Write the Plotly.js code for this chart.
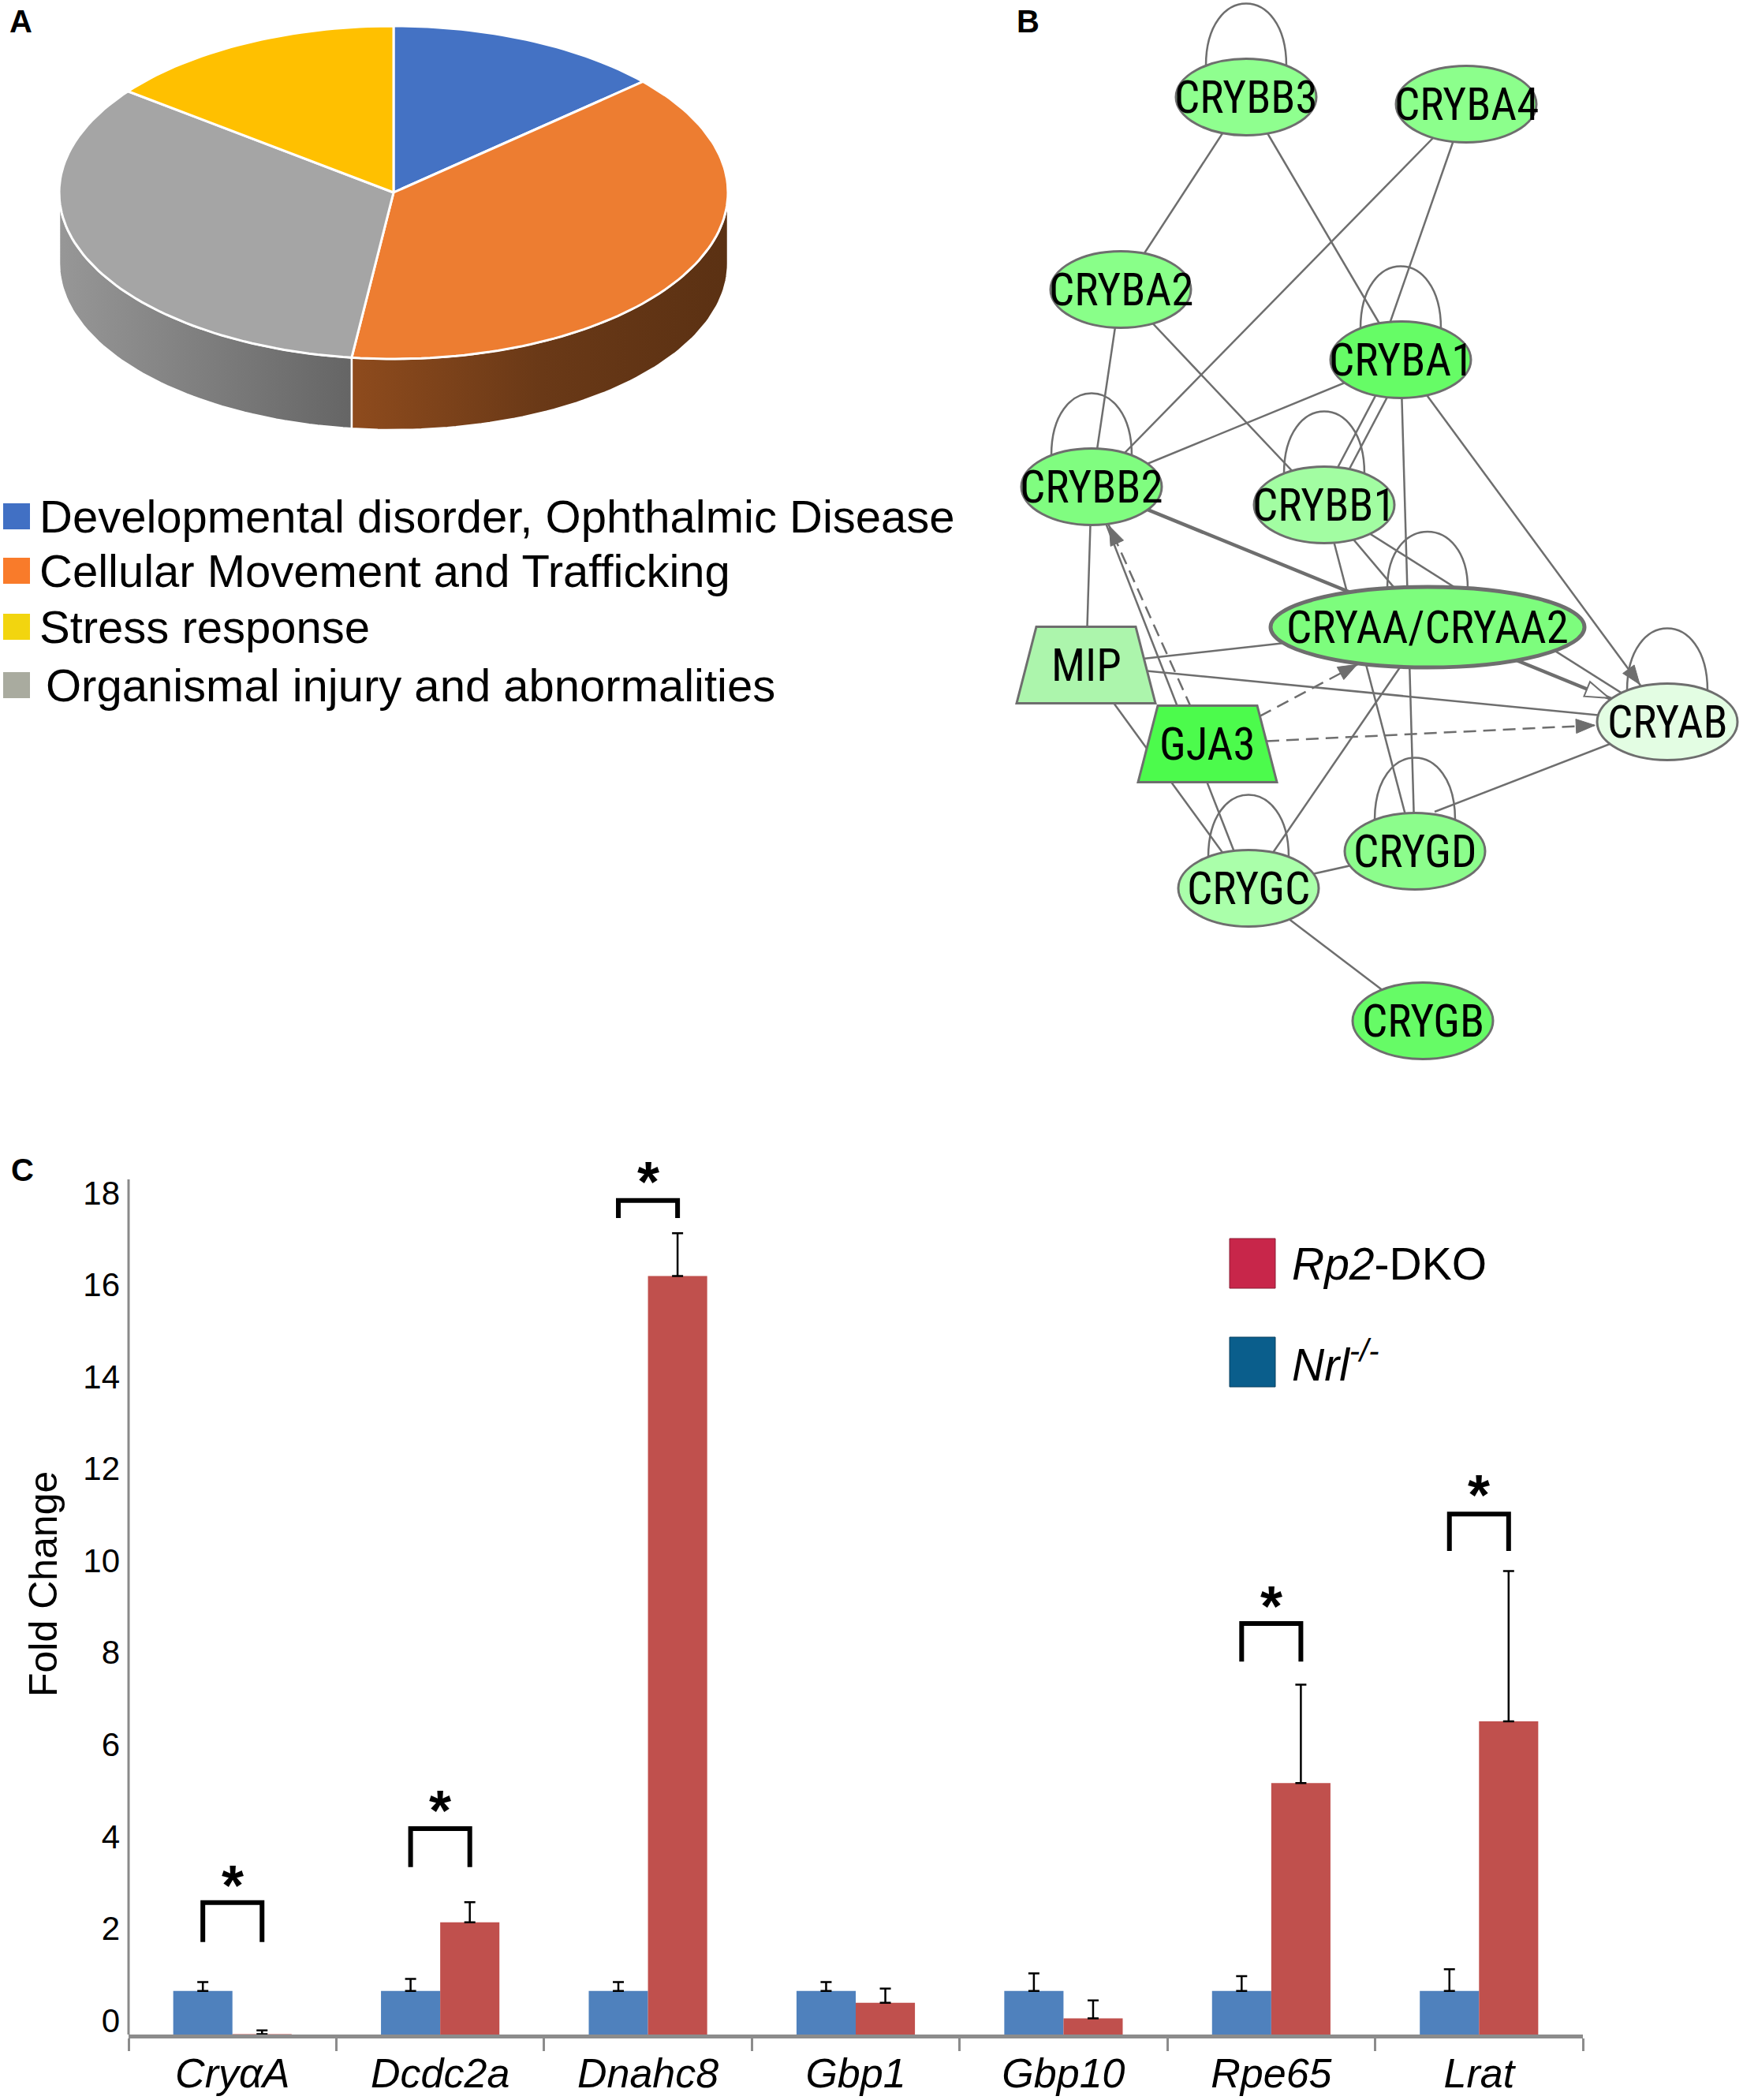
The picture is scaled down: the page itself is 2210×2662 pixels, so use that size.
<!DOCTYPE html>
<html><head><meta charset="utf-8">
<script src="https://cdn.plot.ly/plotly-3.0.1.min.js"></script>
<style>html,body{margin:0;padding:0;background:#fff}</style>
</head><body><div id="chart" style="width:2210px;height:2662px"></div>
<script>
// ================= Panel A : pie data =================
const pieCategories = ['Developmental disorder, Ophthalmic Disease','Cellular Movement and Trafficking','Stress response','Organismal injury and abnormalities'];
const pieValues = [13.4, 38.6, 14.6, 33.4];
const pieColors = ['#4472C4','#ED7D31','#FFC000','#A5A5A5'];
const pieSideColors = [['#2f5597','#203d6e'],['#8e4b1d','#6a3917','#5b3113'],['#b38600','#806000'],['#979797','#656565']];
const pieLegendColors = ['#4170C4','#F97B2A','#F2D50F','#A9AB9F'];
const pieDrawOrder = [0,1,3,2];

// ================= Panel B : network data =================
const nodeNames = ['CRYBB3','CRYBA4','CRYBA2','CRYBA1','CRYBB2','CRYBB1','CRYAA/CRYAA2','MIP','GJA3','CRYAB','CRYGD','CRYGC','CRYGB'];
const nodeX = [1580,1859,1421,1776,1384,1679,1810,1377,1531,2114,1794,1583,1804];
const nodeY = [123,132,367,456,617,640,795,843,943,915,1079,1126,1294];
const nodeKind = ['e','e','e','e','e','e','w','t','t','e','e','e','e'];
const nodeFill = ['#8fff8f','#8cff8c','#89ff89','#66fc66','#80fd80','#a2fda2','#7dfd7d','#acf5ac','#4cfb4c','#e3fde3','#8cfd8c','#aaffaa','#66fb66'];
const loopNodes = ['CRYBB3','CRYBA1','CRYBB2','CRYBB1','CRYAA/CRYAA2','CRYAB','CRYGD','CRYGC'];
const edgeFrom = ['CRYBB3','CRYBB3','CRYBA4','CRYBA4','CRYBA2','CRYBA2','CRYBA1','CRYBA1','CRYBA1','CRYBA1','CRYBA1','CRYBB2','CRYBB2','GJA3','CRYBB2','MIP','MIP','MIP','GJA3','GJA3','CRYBB1','CRYBB1','CRYBB1','CRYAA/CRYAA2','CRYGD','CRYGC','CRYGC'];
const edgeTo   = ['CRYBA2','CRYBA1','CRYBB2','CRYBA1','CRYBB2','CRYBB1','CRYBB2','CRYBB1','CRYBB1','CRYGD','CRYAB','CRYAB','MIP','CRYBB2','CRYGC','CRYAA/CRYAA2','CRYAB','CRYGC','CRYAA/CRYAA2','CRYAB','CRYAA/CRYAA2','CRYGD','CRYAB','CRYGC','CRYAB','CRYGD','CRYGB'];
const edgeDash = ['s','s','s','s','s','s','s','s','s','s','s','s','s','d','s','s','s','s','d','d','s','s','s','s','s','s','s'];
const edgeHead = ['','','','','','','','','','','filled','open','','filled','','','','','filled','filled','','','','','','',''];
const edgeWidth= [2.5,2.5,2.5,2.5,2.5,2.5,2.5,2.5,2.5,2.5,2.5,4.5,2.5,2.5,2.5,2.5,2.5,2.5,2.5,2.5,2.5,2.5,2.5,2.5,2.5,2.5,2.5];
const edgeShift= [0,0,0,0,0,0,0,7,-7,0,0,0,0,0,0,0,0,0,0,0,0,0,0,0,0,0,0];
const edgeFromOffset = {24:[25,-50]};
const edgeToOffset = {3:[-30,0]};

// ================= Panel C : bar data =================
const genes = ['CryαA','Dcdc2a','Dnahc8','Gbp1','Gbp10','Rpe65','Lrat'];
const nrlValues = [0.95,0.95,0.95,0.95,0.95,0.95,0.95];
const nrlErrors = [0.19,0.26,0.19,0.19,0.38,0.32,0.47];
const rp2Values = [0.01,2.44,16.5,0.69,0.35,5.47,6.81];
const rp2Errors = [0.08,0.44,0.93,0.31,0.39,2.14,3.27];
const sigBracketTop = [2.87,4.48,18.14,null,null,8.94,11.32];
const sigBracketLeg = [2.01,3.64,17.76,null,null,8.11,10.52];
const sigStarY      = [3.52,5.15,18.83,null,null,9.6,12.01];
const yTickVals = [0,2,4,6,8,10,12,14,16,18];
const seriesNames = ['Rp2-DKO','Nrl-/-'];

// ================= drawing =================
const W=2210, H=2662;
const FONT='Liberation Sans, Arial, Helvetica, sans-serif';
const NARROW='Liberation Sans Narrow, Arial Narrow, Roboto Condensed, DejaVu Sans Condensed, Liberation Sans, sans-serif';
const traces=[], shapes=[], annotations=[];
const P = {xref:'x2', yref:'y2'};

// ---- Pie (tilted) ----
const PIE={cx:499, cy:244, rx:424, ry:211, depth:90};
const total = pieValues.reduce((a,b)=>a+b,0);
function ept(t, dy){ const r=t*Math.PI/180; return [PIE.cx+PIE.rx*Math.cos(r), PIE.cy-PIE.ry*Math.sin(r)+(dy||0)]; }
function arc(tA,tB,dy){ const n=Math.max(2,Math.ceil(Math.abs(tB-tA)/1.5)); const out=[]; for(let k=0;k<=n;k++){ out.push(ept(tA+(tB-tA)*k/n,dy)); } return out; }
let st=90; const ranges=[];
pieDrawOrder.forEach(i=>{ const sw=360*pieValues[i]/total; ranges.push({i,t0:st,t1:st-sw}); st-=sw; });
ranges.forEach(r=>{
  const lo=Math.max(r.t1,-180), hi=Math.min(r.t0,0);
  if(lo<hi){
    const pts=arc(hi,lo,0).concat(arc(lo,hi,PIE.depth)); pts.push(pts[0]);
    const cs=pieSideColors[r.i]; const scale=cs.map((c,k)=>[k/(cs.length-1),c]);
    traces.push({type:'scatter',mode:'lines',x:pts.map(p=>p[0]),y:pts.map(p=>p[1]),xaxis:'x2',yaxis:'y2',
      fill:'toself',fillgradient:{type:'horizontal',colorscale:scale},fillcolor:cs[0],
      line:{color:'#ffffff',width:2.5},hoverinfo:'skip',showlegend:false});
  }
});
ranges.forEach(r=>{
  const pts=[[PIE.cx,PIE.cy]].concat(arc(r.t0,r.t1,0)); pts.push([PIE.cx,PIE.cy]);
  traces.push({type:'scatter',mode:'lines',x:pts.map(p=>p[0]),y:pts.map(p=>p[1]),xaxis:'x2',yaxis:'y2',
    fill:'toself',fillcolor:pieColors[r.i],line:{color:'#ffffff',width:3},hoverinfo:'skip',showlegend:false,name:pieCategories[r.i]});
});
const legY=[654.5,723.5,794.5,868.5];
pieCategories.forEach((c,i)=>{
  shapes.push({type:'rect',...P,x0:4,x1:38,y0:legY[i]-16.5,y1:legY[i]+16.5,fillcolor:pieLegendColors[i],line:{width:0}});
  annotations.push({...P,x:(i===3?56:48),y:legY[i],text:c,showarrow:false,xanchor:'left',yanchor:'middle',font:{size:58,family:FONT,color:'#000'}});
});

// ---- Network ----
const idx = n=>nodeNames.indexOf(n);
function geom(i){ const k=nodeKind[i]; if(k==='w') return {rx:199,ry:51}; if(k==='t') return {rx:76,ry:48.5}; return {rx:89,ry:48.5}; }
const EC='#6e6e6e';
edgeFrom.forEach((f,e)=>{
  const a=idx(f), b=idx(edgeTo[e]);
  let x0=nodeX[a], y0=nodeY[a], x1=nodeX[b], y1=nodeY[b];
  if(edgeFromOffset[e]){x0+=edgeFromOffset[e][0]; y0+=edgeFromOffset[e][1];}
  if(edgeToOffset[e]){x1+=edgeToOffset[e][0]; y1+=edgeToOffset[e][1];}
  const L=Math.hypot(x1-x0,y1-y0), nx=-(y1-y0)/L, ny=(x1-x0)/L;
  x0+=nx*edgeShift[e]; x1+=nx*edgeShift[e]; y0+=ny*edgeShift[e]; y1+=ny*edgeShift[e];
  shapes.push({type:'line',...P,x0,y0,x1,y1,line:{color:EC,width:edgeWidth[e],dash:edgeDash[e]==='d'?'16px,9px':'solid'}});
});
loopNodes.forEach(n=>{
  const i=idx(n), g=geom(i), hw=51, cx=nodeX[i], cy=nodeY[i];
  const yb=cy-g.ry*Math.sqrt(1-(hw/g.rx)*(hw/g.rx));
  const peak=cy-g.ry-70; const Hc=(yb-peak)/0.75;
  shapes.push({type:'path',...P,path:`M${cx-hw},${yb} C${cx-hw},${yb-Hc} ${cx+hw},${yb-Hc} ${cx+hw},${yb}`,line:{color:EC,width:2.5}});
});
nodeNames.forEach((n,i)=>{
  const cx=nodeX[i], cy=nodeY[i], g=geom(i);
  const lw = nodeKind[i]==='w'?5:3;
  if(nodeKind[i]==='t'){
    const th=63, bh=88, hh=48.5;
    shapes.push({type:'path',...P,path:`M${cx-th},${cy-hh} L${cx+th},${cy-hh} L${cx+bh},${cy+hh} L${cx-bh},${cy+hh} Z`,fillcolor:nodeFill[i],line:{color:'#6e6e6e',width:3}});
  } else {
    shapes.push({type:'circle',...P,x0:cx-g.rx,x1:cx+g.rx,y0:cy-g.ry,y1:cy+g.ry,fillcolor:nodeFill[i],line:{color:'#6e6e6e',width:lw}});
  }
  annotations.push({...P,x:cx,y:cy,text:n,showarrow:false,xanchor:'center',yanchor:'middle',font:{size:57,family:NARROW,color:'#000'}});
});
edgeFrom.forEach((f,e)=>{
  if(!edgeHead[e]) return;
  const a=idx(f), b=idx(edgeTo[e]); const g=geom(b);
  let sx=nodeX[a], sy=nodeY[a], tx=nodeX[b], ty=nodeY[b];
  const L=Math.hypot(sx-tx,sy-ty), ux=(sx-tx)/L, uy=(sy-ty)/L;
  const s=1/Math.sqrt((ux/g.rx)**2+(uy/g.ry)**2);
  const open=edgeHead[e]==='open';
  const len=open?30:24, hwid=open?10:9;
  const px=tx+ux*(s+3), py=ty+uy*(s+3);
  const bx=px+ux*len, by=py+uy*len, nx=-uy, ny=ux;
  shapes.push({type:'path',...P,path:`M${px},${py} L${bx+nx*hwid},${by+ny*hwid} L${bx-nx*hwid},${by-ny*hwid} Z`,
    fillcolor:open?'#ffffff':EC,line:{color:EC,width:open?2:1}});
});

// ---- Bars ----
const Y0=2579, PPU=58.28, YMAX=19.6, YLINE=18.6;
traces.push({type:'bar',name:seriesNames[1],x:genes,y:nrlValues,marker:{color:'#4F81BD'},
  error_y:{type:'data',symmetric:false,array:nrlErrors,arrayminus:nrlErrors.map(()=>0),color:'#000',thickness:2.5,width:7},xaxis:'x',yaxis:'y',hoverinfo:'x+y'});
traces.push({type:'bar',name:seriesNames[0],x:genes,y:rp2Values,marker:{color:'#C0504D'},
  error_y:{type:'data',symmetric:false,array:rp2Errors,arrayminus:rp2Errors.map(()=>0),color:'#000',thickness:2.5,width:7},xaxis:'x',yaxis:'y',hoverinfo:'x+y'});
const BARGAP=0.43, off=(1-BARGAP)/4;
genes.forEach((g,i)=>{
  if(sigBracketTop[i]===null) return;
  shapes.push({type:'path',xref:'x',yref:'y',path:`M${i-off},${sigBracketLeg[i]} L${i-off},${sigBracketTop[i]} L${i+off},${sigBracketTop[i]} L${i+off},${sigBracketLeg[i]}`,line:{color:'#000',width:6}});
  annotations.push({xref:'x',yref:'y',x:i,y:sigStarY[i],text:'<b>*</b>',showarrow:false,yshift:-16,font:{size:72,family:FONT,color:'#000'}});
});
shapes.push({type:'line',xref:'paper',yref:'y',x0:163/W,x1:163/W,y0:0,y1:YLINE,line:{color:'#8a8a8a',width:3}});
shapes.push({type:'rect',...P,x0:1559,x1:1617,y0:1570,y1:1633,fillcolor:'#C8264A',line:{color:'#8a1c34',width:1}});
shapes.push({type:'rect',...P,x0:1559,x1:1617,y0:1695,y1:1758,fillcolor:'#0A5E8C',line:{color:'#073f5e',width:1}});
annotations.push({...P,x:1636,y:1602,text:'<i>Rp2</i>-DKO',showarrow:false,xanchor:'left',yanchor:'middle',font:{size:57,family:FONT,color:'#000'}});
annotations.push({...P,x:1636,y:1726,text:'<i>Nrl</i><sup><i>-/-</i></sup>',showarrow:false,xanchor:'left',yanchor:'middle',font:{size:57,family:FONT,color:'#000'}});

[['A',26,27],['B',1303,27],['C',28,1483]].forEach(l=>{
  annotations.push({...P,x:l[1],y:l[2],text:'<b>'+l[0]+'</b>',showarrow:false,xanchor:'center',yanchor:'middle',font:{size:40,family:FONT,color:'#000'}});
});

const layout={
  width:W,height:H,margin:{l:0,r:0,t:0,b:0},paper_bgcolor:'#ffffff',plot_bgcolor:'rgba(0,0,0,0)',
  showlegend:false,barmode:'group',bargap:BARGAP,bargroupgap:0,font:{family:FONT,color:'#000'},
  xaxis:{domain:[163/W,2007/W],anchor:'y',type:'category',range:[-0.5,6.5],showline:true,linecolor:'#8c8c8c',linewidth:5,
    ticks:'outside',tickson:'boundaries',ticklen:16,tickwidth:3,tickcolor:'#8c8c8c',tickfont:{size:52,style:'italic',color:'#000'},
    showgrid:false,zeroline:false,fixedrange:true},
  yaxis:{domain:[1-Y0/H,1-(Y0-YMAX*PPU)/H],anchor:'x',range:[0,YMAX],tickmode:'array',tickvals:yTickVals,showline:false,showgrid:false,zeroline:false,
    ticks:'',tickfont:{size:42,color:'#000'},ticklabelshift:-18,ticklabelstandoff:10,
    title:{text:'Fold Change',font:{size:50,color:'#000'},standoff:16},fixedrange:true},
  xaxis2:{domain:[0,1],anchor:'y2',range:[0,W],visible:false,fixedrange:true},
  yaxis2:{domain:[0,1],anchor:'x2',range:[H,0],visible:false,fixedrange:true},
  shapes,annotations
};
Plotly.newPlot('chart',traces,layout,{displayModeBar:false,staticPlot:true});
</script></body></html>
